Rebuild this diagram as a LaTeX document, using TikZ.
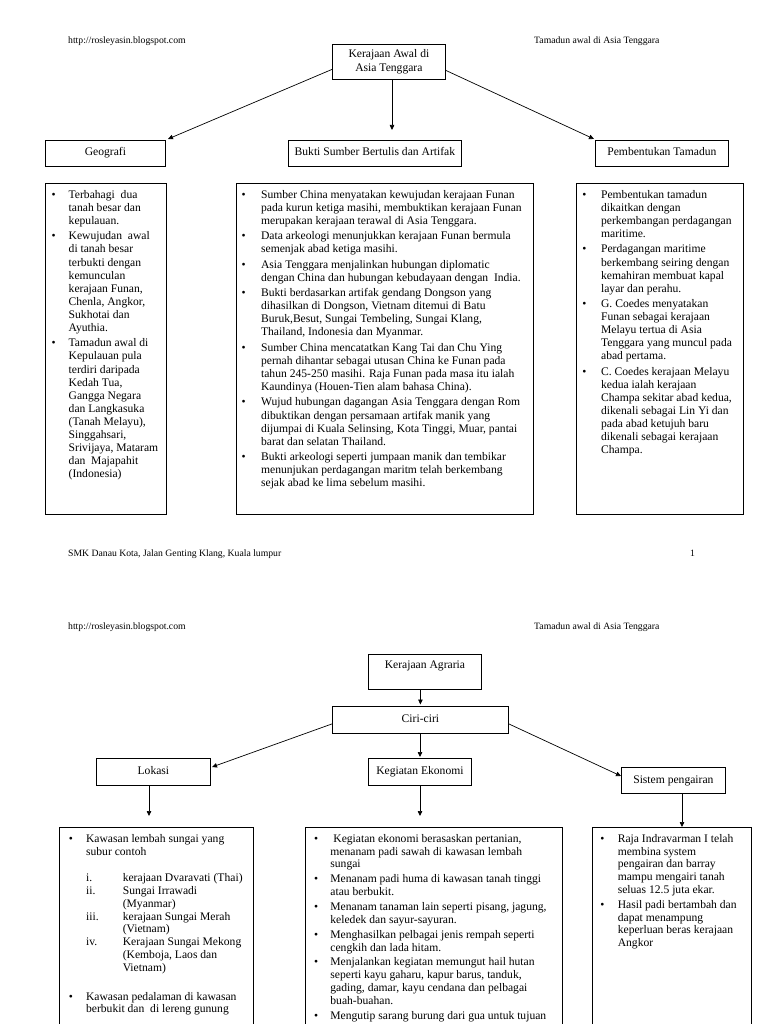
\documentclass[tikz,border=0pt]{standalone}
\usepackage{fontspec}
\setmainfont{Liberation Serif}
\usetikzlibrary{arrows.meta}
\newlength\bulx \newlength\txtx \newlength\rtxt \newlength\igap
\setlength\igap{2.2pt}
\newcommand\bitem{\par\addvspace{\igap}\noindent\hangindent=\txtx\hangafter=1\hbox to\txtx{\hskip\bulx\textbullet\hfil}\ignorespaces}
\newcommand\ritem[1]{\par\noindent\hangindent=\rtxt\hangafter=1\hbox to\rtxt{\hskip\txtx #1\hfil}\ignorespaces}
\newcommand\blankln{\par\vspace{14pt}}
\newcommand\tstrut{\rule{0pt}{15pt}}
\newcommand\cbody[5]{\setlength\bulx{#3}\setlength\txtx{#4}\makebox[#1][l]{\begin{minipage}[t][#2][t]{\dimexpr#1+60pt\relax}#5\end{minipage}}}
\tikzset{
  lbl/.style={draw, line width=0.8pt, inner sep=0pt, anchor=north west, font=\fontsize{11.6}{14}\selectfont},
  cbox/.style={draw, line width=0.8pt, inner sep=0pt, anchor=north west, font=\fontsize{11.6}{13.1}\selectfont},
  cboxb/.style={cbox, font=\fontsize{11.6}{12.75}\selectfont},
  hdr/.style={inner sep=0pt, font=\fontsize{9.7}{11}\selectfont},
  arr/.style={line width=0.7pt, -{Triangle[length=5pt,width=4.5pt]}}
}
\begin{document}
\begin{tikzpicture}[x=1pt,y=-1pt]
\useasboundingbox (0,0) rectangle (768,1024);
\fill[white] (0,0) rectangle (768,1024);
\clip (0,0) rectangle (768,1024);
% ---------- page 1 ----------
\node[hdr, anchor=base west] (h1l) at (68,43.7) {http://rosleyasin.blogspot.com};
\node[hdr, anchor=base west] (h1r) at (534,43.7) {Tamadun awal di Asia Tenggara};
\node[lbl, minimum width=113pt, minimum height=35pt, align=center] (kaw) at (332,44) {Kerajaan Awal di\\Asia Tenggara};
\node[lbl, minimum width=120pt, minimum height=26pt, text height=15.5pt, text depth=10.5pt] (geo) at (45,140) {Geografi};
\node[lbl, minimum width=173pt, minimum height=26pt, text height=15.5pt, text depth=10.5pt] (buk) at (288,140) {Bukti Sumber Bertulis dan Artifak};
\node[lbl, minimum width=133pt, minimum height=26pt, text height=15.5pt, text depth=10.5pt] (pem) at (595,140) {Pembentukan Tamadun};
\coordinate (geoend) at (168,139);
\coordinate (bukend) at (392,130);
\coordinate (pemend) at (594,139);
\draw[arr] ([yshift=-7.5pt]kaw.west) -- (geoend);
\draw[arr] (kaw.south -| bukend) -- (bukend);
\draw[arr] ([yshift=-8.5pt]kaw.east) -- (pemend);

\node[cbox] (geoc) at (45,183) {\cbody{121pt}{331pt}{6.3pt}{23.3pt}{%
\bitem\tstrut Terbahagi~ dua\\ tanah besar dan\\ kepulauan.
\bitem Kewujudan~ awal\\ di tanah besar\\ terbukti dengan\\ kemunculan\\ kerajaan Funan,\\ Chenla, Angkor,\\ Sukhotai dan\\ Ayuthia.
\bitem Tamadun awal di\\ Kepulauan pula\\ terdiri daripada\\ Kedah Tua,\\ Gangga Negara\\ dan Langkasuka\\ (Tanah Melayu),\\ Singgahsari,\\ Srivijaya, Mataram\\ dan~ Majapahit\\ (Indonesia)}};

\node[cbox] (bukc) at (236,183) {\cbody{297pt}{331pt}{5.3pt}{24.7pt}{%
\bitem\tstrut Sumber China menyatakan kewujudan kerajaan Funan\\ pada kurun ketiga masihi, membuktikan kerajaan Funan\\ merupakan kerajaan terawal di Asia Tenggara.
\bitem Data arkeologi menunjukkan kerajaan Funan bermula\\ semenjak abad ketiga masihi.
\bitem Asia Tenggara menjalinkan hubungan diplomatic\\ dengan China dan hubungan kebudayaan dengan~ India.
\bitem Bukti berdasarkan artifak gendang Dongson yang\\ dihasilkan di Dongson, Vietnam ditemui di Batu\\ Buruk,Besut, Sungai Tembeling, Sungai Klang,\\ Thailand, Indonesia dan Myanmar.
\bitem Sumber China mencatatkan Kang Tai dan Chu Ying\\ pernah dihantar sebagai utusan China ke Funan pada\\ tahun 245-250 masihi. Raja Funan pada masa itu ialah\\ Kaundinya (Houen-Tien alam bahasa China).
\bitem Wujud hubungan dagangan Asia Tenggara dengan Rom\\ dibuktikan dengan persamaan artifak manik yang\\ dijumpai di Kuala Selinsing, Kota Tinggi, Muar, pantai\\ barat dan selatan Thailand.
\bitem Bukti arkeologi seperti jumpaan manik dan tembikar\\ menunjukan perdagangan maritm telah berkembang\\ sejak abad ke lima sebelum masihi.}};

\node[cbox] (pemc) at (576,183) {\cbody{167pt}{331pt}{6pt}{24.7pt}{%
\bitem\tstrut Pembentukan tamadun\\ dikaitkan dengan\\ perkembangan perdagangan\\ maritime.
\bitem Perdagangan maritime\\ berkembang seiring dengan\\ kemahiran membuat kapal\\ layar dan perahu.
\bitem G. Coedes menyatakan\\ Funan sebagai kerajaan\\ Melayu tertua di Asia\\ Tenggara yang muncul pada\\ abad pertama.
\bitem C. Coedes kerajaan Melayu\\ kedua ialah kerajaan\\ Champa sekitar abad kedua,\\ dikenali sebagai Lin Yi dan\\ pada abad ketujuh baru\\ dikenali sebagai kerajaan\\ Champa.}};

\node[hdr, anchor=base west] (f1l) at (68,556.5) {SMK Danau Kota, Jalan Genting Klang, Kuala lumpur};
\node[hdr, anchor=base west] (f1r) at (690,556.5) {1};

% ---------- page 2 ----------
\node[hdr, anchor=base west] (h2l) at (68,629.7) {http://rosleyasin.blogspot.com};
\node[hdr, anchor=base west] (h2r) at (534,629.7) {Tamadun awal di Asia Tenggara};
\node[lbl, minimum width=113pt, minimum height=35pt, text height=14pt, text depth=21pt] (agr) at (368,654) {Kerajaan Agraria};
\node[lbl, minimum width=176pt, minimum height=27pt, text height=16pt, text depth=11pt] (ciri) at (332,706) {Ciri-ciri};
\node[lbl, minimum width=114pt, minimum height=27pt, text height=16.5pt, text depth=10.5pt] (lok) at (96,758) {Lokasi};
\node[lbl, minimum width=103pt, minimum height=27pt, text height=16.5pt, text depth=10.5pt] (keg) at (368,758) {Kegiatan Ekonomi};
\node[lbl, minimum width=104pt, minimum height=26pt, text height=16.5pt, text depth=9.5pt] (sis) at (621,767) {Sistem pengairan};

\node[cboxb] (lokc) at (59,827) {\setlength\rtxt{63.4pt}\cbody{194pt}{220pt}{9.4pt}{26.7pt}{%
\bitem\tstrut Kawasan lembah sungai yang\\ subur contoh
\blankln
\ritem{i.}kerajaan Dvaravati (Thai)
\ritem{ii.}Sungai Irrawadi\\ (Myanmar)
\ritem{iii.}kerajaan Sungai Merah\\ (Vietnam)
\ritem{iv.}Kerajaan Sungai Mekong\\ (Kemboja, Laos dan\\ Vietnam)
\blankln
\bitem Kawasan pedalaman di kawasan\\ berbukit dan~ di lereng gunung}};

\node[cboxb] (kegc) at (305,827) {\cbody{257pt}{220pt}{8.7pt}{25pt}{%
\bitem\tstrut\hspace{3pt}Kegiatan ekonomi berasaskan pertanian,\\ menanam padi sawah di kawasan lembah\\ sungai
\bitem Menanam padi huma di kawasan tanah tinggi\\ atau berbukit.
\bitem Menanam tanaman lain seperti pisang, jagung,\\ keledek dan sayur-sayuran.
\bitem Menghasilkan pelbagai jenis rempah seperti\\ cengkih dan lada hitam.
\bitem Menjalankan kegiatan memungut hail hutan\\ seperti kayu gaharu, kapur barus, tanduk,\\ gading, damar, kayu cendana dan pelbagai\\ buah-buahan.
\bitem Mengutip sarang burung dari gua untuk tujuan}};

\node[cboxb] (sisc) at (592,827) {\cbody{159pt}{220pt}{8pt}{25.4pt}{%
\bitem\tstrut Raja Indravarman I telah\\ membina system\\ pengairan dan barray\\ mampu mengairi tanah\\ seluas 12.5 juta ekar.
\bitem Hasil padi bertambah dan\\ dapat menampung\\ keperluan beras kerajaan\\ Angkor}};

\coordinate (lokend) at (212,767);
\coordinate (kegend) at (420,757);
\coordinate (sisend) at (621,776);
\coordinate (lokdn) at (149,816);
\coordinate (kegdn) at (420,816);
\coordinate (sisdn) at (682,827);
\draw[arr] (agr.south -| ciri.north) -- ([yshift=1.5pt]ciri.north);
\draw[arr] ([yshift=-4pt]ciri.west) -- (lokend);
\draw[arr] (ciri.south -| kegend) -- (kegend);
\draw[arr] ([yshift=-4pt]ciri.east) -- (sisend);
\draw[arr] (lok.south -| lokdn) -- (lokdn);
\draw[arr] (keg.south -| kegdn) -- (kegdn);
\draw[arr] (sis.south -| sisdn) -- (sisdn);
\end{tikzpicture}
\end{document}
